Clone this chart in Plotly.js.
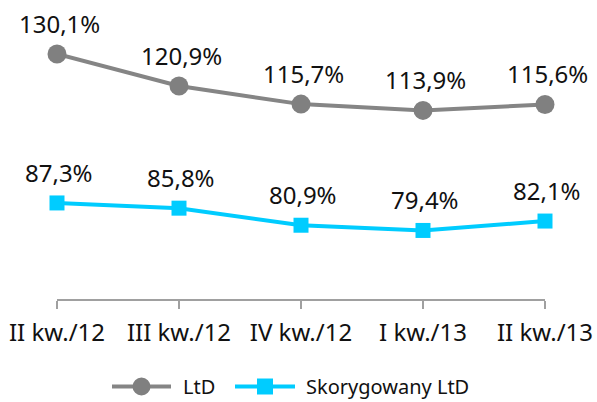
<!DOCTYPE html>
<html><head><meta charset="utf-8">
<script src="https://cdn.plot.ly/plotly-3.0.1.min.js"></script>
<style>html,body{margin:0;padding:0;background:#fff}#chart{width:597px;height:402px}</style>
</head><body><div id="chart"></div>
<script>
var categories = ["II kw./12", "III kw./12", "IV kw./12", "I kw./13", "II kw./13"];
var ltd = [130.1, 120.9, 115.7, 113.9, 115.6];
var adjLtd = [87.3, 85.8, 80.9, 79.4, 82.1];
var seriesNames = ["LtD", "Skorygowany LtD"];

function fmt(v){ return v.toFixed(1).replace('.', ',') + '%'; }
var idx = categories.map(function(_, i){ return i; });
var FONT = 'Noto Sans, sans-serif';
var GREY = '#858585', CYAN = '#00ccff';

var traces = [
  {x: idx, y: ltd, name: seriesNames[0], mode: 'lines+markers', cliponaxis: false,
   line: {color: GREY, width: 4},
   marker: {symbol: 'circle', size: 19, color: '#808080'}},
  {x: idx, y: adjLtd, name: seriesNames[1], mode: 'lines+markers', cliponaxis: false,
   line: {color: CYAN, width: 4},
   marker: {symbol: 'square', size: 15, color: CYAN}}
];

var annotations = [];
[ltd, adjLtd].forEach(function(series){
  series.forEach(function(v, i){
    annotations.push({x: i, y: v, xref: 'x', yref: 'y', text: fmt(v), showarrow: false,
      xanchor: 'center', yanchor: 'bottom', yshift: 12, xshift: 2,
      font: {family: FONT, size: 24, color: '#111'}});
  });
});

// custom legend (longer symbol lines like the reference)
var plotL = 57, plotW = 488, plotB = 299, plotH = 269;
function px(xp){ return (xp - plotL) / plotW; }
function py(yp){ return (plotB - yp) / plotH; }
var legY = py(386.5);
var shapes = [
  {type: 'line', xref: 'paper', yref: 'paper', x0: px(112), x1: px(171), y0: legY, y1: legY,
   line: {color: GREY, width: 4}},
  {type: 'circle', xref: 'paper', yref: 'paper', xsizemode: 'pixel', ysizemode: 'pixel',
   xanchor: px(141.5), yanchor: legY, x0: -9, x1: 9, y0: -9, y1: 9,
   fillcolor: '#808080', line: {width: 0}},
  {type: 'line', xref: 'paper', yref: 'paper', x0: px(235), x1: px(295), y0: legY, y1: legY,
   line: {color: CYAN, width: 4}},
  {type: 'rect', xref: 'paper', yref: 'paper', xsizemode: 'pixel', ysizemode: 'pixel',
   xanchor: px(265), yanchor: legY, x0: -8, x1: 8, y0: -8, y1: 8,
   fillcolor: CYAN, line: {width: 0}}
];
annotations.push({xref: 'paper', yref: 'paper', x: px(181), y: legY, xanchor: 'left', yanchor: 'middle',
  text: seriesNames[0], showarrow: false, font: {family: FONT, size: 20, color: '#111'}});
annotations.push({xref: 'paper', yref: 'paper', x: px(304), y: legY, xanchor: 'left', yanchor: 'middle',
  text: seriesNames[1], showarrow: false, font: {family: FONT, size: 20, color: '#111'}});

var layout = {
  width: 597, height: 402,
  margin: {l: 57, r: 52, t: 30, b: 103, autoexpand: false},
  paper_bgcolor: '#fff', plot_bgcolor: '#fff',
  font: {family: FONT, color: '#111'},
  showlegend: false,
  annotations: annotations,
  shapes: shapes,
  xaxis: {range: [0, 4], tickmode: 'array', tickvals: idx, ticktext: categories,
          showgrid: false, zeroline: false, showline: true, linecolor: '#a0a0a0', linewidth: 2,
          ticks: 'outside', ticklen: 8, tickwidth: 2, tickcolor: '#a0a0a0', ticklabelstandoff: 3,
          tickfont: {family: FONT, size: 24, color: '#111'}, fixedrange: true},
  yaxis: {range: [59.7, 137.0], visible: false, showgrid: false, zeroline: false, fixedrange: true}
};

Plotly.newPlot('chart', traces, layout, {displayModeBar: false, staticPlot: true});
</script></body></html>
